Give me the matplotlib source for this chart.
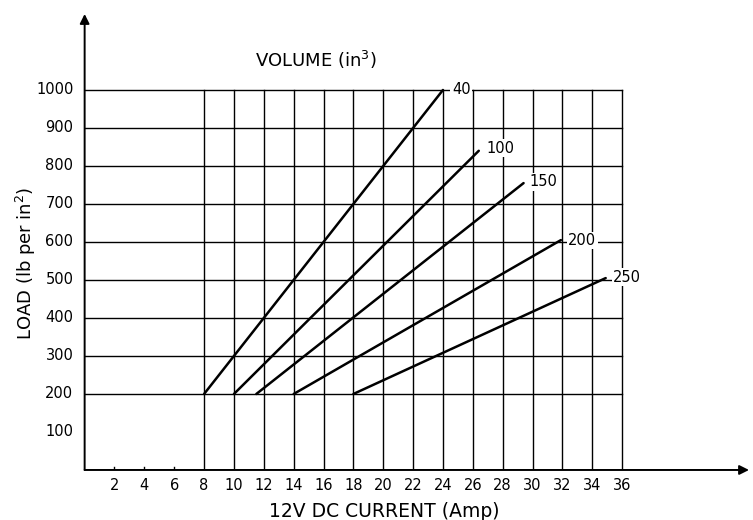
import matplotlib
matplotlib.use("Agg")
import matplotlib.pyplot as plt

# Data
volumes = ["40", "100", "150", "200", "250"]
current_start = [8.0, 10.0, 11.5, 14.0, 18.0]
load_start = [200, 200, 200, 200, 200]
current_end = [24.0, 26.4, 29.4, 31.9, 34.9]
load_end = [1000, 840, 755, 605, 505]
label_x = [24.6, 26.9, 29.8, 32.4, 35.4]
label_y = [1000, 847, 758, 604, 507]

x_ticks = list(range(2, 37, 2))
y_ticks = list(range(100, 1001, 100))
grid_x = list(range(8, 37, 2))
grid_y = list(range(200, 1001, 100))

fig = plt.figure(figsize=(7.53, 5.2), dpi=100)
ax = fig.add_axes([0.1124, 0.0962, 0.8837, 0.8788])
ax.set_xlim(0, 44.57)
ax.set_ylim(0, 1202.6)
for s in ax.spines.values():
    s.set_visible(False)
ax.set_xticks([])
ax.set_yticks([])

# grid
for gx in grid_x:
    ax.plot([gx, gx], [0, 1000], color="black", lw=1.0, zorder=1)
for gy in grid_y:
    ax.plot([0, 36], [gy, gy], color="black", lw=1.0, zorder=1)

# axes with arrows
ax.annotate("", xy=(44.5, 0), xytext=(0, 0),
            arrowprops=dict(arrowstyle="-|>", color="black", lw=1.4,
                            mutation_scale=14, shrinkA=0, shrinkB=0),
            annotation_clip=False)
ax.annotate("", xy=(0, 1200), xytext=(0, 0),
            arrowprops=dict(arrowstyle="-|>", color="black", lw=1.4,
                            mutation_scale=14, shrinkA=0, shrinkB=0),
            annotation_clip=False)

# small ticks
for t in [2, 4, 6]:
    ax.plot([t, t], [-6, 8], color="black", lw=1.0)

# tick labels
for t in x_ticks:
    ax.text(t, -22, str(t), ha="center", va="top", fontsize=10.5)
for t in y_ticks:
    ax.text(-0.75, t, str(t), ha="right", va="center", fontsize=10.5)

# data lines
for i, v in enumerate(volumes):
    ax.plot([current_start[i], current_end[i]], [load_start[i], load_end[i]],
            color="black", lw=1.8, zorder=3, solid_capstyle="round")
    ax.text(label_x[i], label_y[i], v, ha="left", va="center", fontsize=10.5,
            zorder=4, bbox=dict(facecolor="white", edgecolor="none", pad=1))

ax.text(11.4, 1079, "VOLUME (in$^3$)", ha="left", va="center", fontsize=13)
ax.text(20.1, -108, "12V DC CURRENT (Amp)", ha="center", va="center",
        fontsize=13.5, clip_on=False)
fig.text(0.035, 0.494, "LOAD (lb per in$^2$)", rotation=90, ha="center",
         va="center", fontsize=13)

fig.savefig("out.png", dpi=100, facecolor="white")
